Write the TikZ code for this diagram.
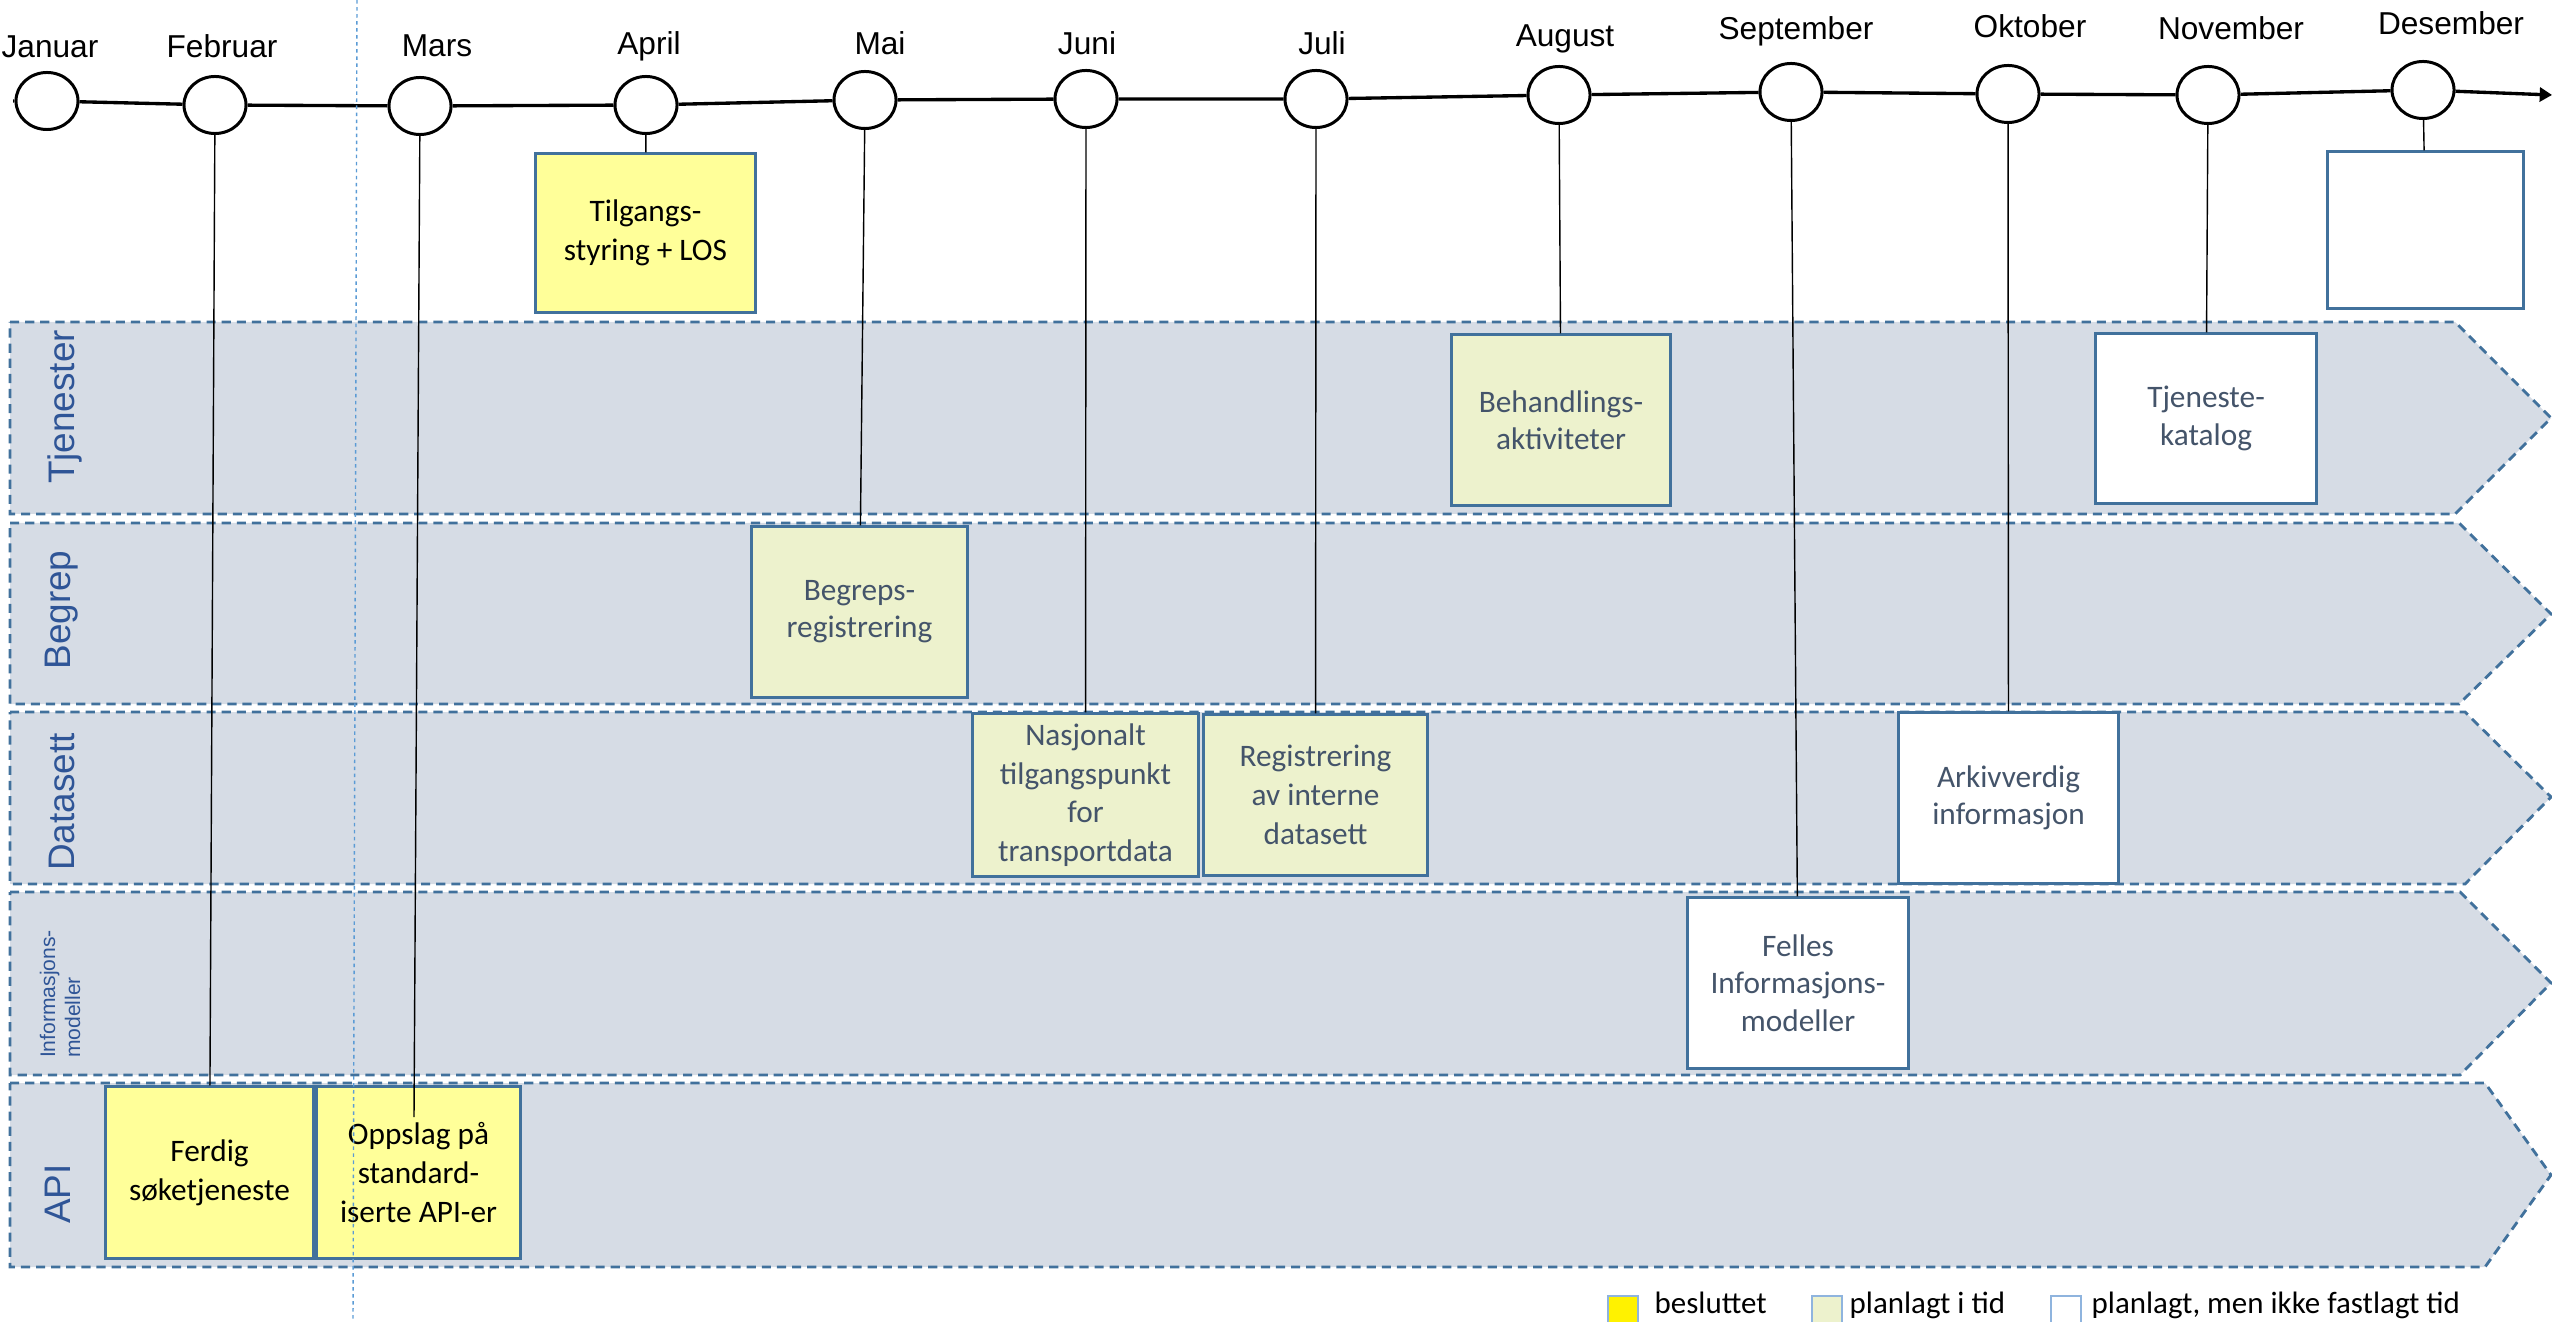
\documentclass[tikz,border=0pt]{standalone}
\usepackage{fontspec}
\setmainfont{Carlito}
\newfontfamily\arialfont{Liberation Sans}
\usetikzlibrary{shapes.geometric, arrows.meta}

\definecolor{lanefill}{HTML}{D6DCE5}
\definecolor{laneline}{HTML}{41719C}
\definecolor{lanetext}{HTML}{2F5597}
\definecolor{boxline}{HTML}{41719C}
\definecolor{decidedfill}{HTML}{FFFF99}
\definecolor{plannedfill}{HTML}{EDF2CD}
\definecolor{tasktext}{HTML}{44546A}
\definecolor{guideline}{HTML}{5B9BD5}
\definecolor{legendline}{HTML}{8FB4DE}

\tikzset{
    month/.style={ellipse, draw, line width=0.85pt, fill=white,
        minimum width=0.62cm, minimum height=0.57cm, inner sep=0pt},
    monthlabel/.style={anchor=base, inner sep=0pt,
        font=\arialfont\fontsize{9}{11}\selectfont},
    timeline/.style={line width=0.95pt, -{Triangle[length=3.5pt, width=4pt]}},
    lane/.style={fill=lanefill, draw=laneline, line width=0.8pt,
        dash pattern=on 2.6pt off 1.7pt},
    lanelabel/.style={rotate=90, text=lanetext, inner sep=0pt,
        font=\arialfont\fontsize{10.5}{12}\selectfont},
    task/.style={draw=boxline, line width=0.85pt, align=center, inner sep=0pt,
        font=\fontsize{8.9}{11}\selectfont},
    tighttext/.style={font=\fontsize{8.9}{10.6}\selectfont},
    decided/.style={task, fill=decidedfill},
    planned/.style={task, fill=plannedfill, text=tasktext},
    unfixed/.style={task, fill=white, text=tasktext},
    link/.style={line width=0.4pt},
    legendbox/.style={draw=legendline, line width=0.5pt, anchor=north west,
        minimum width=0.3cm, minimum height=0.3cm, inner sep=0pt},
    legendtext/.style={anchor=base west, inner sep=0pt,
        font=\fontsize{8.8}{10.5}\selectfont},
}

\begin{document}
\begin{tikzpicture}[x=0.01cm, y=-0.01cm]
    \useasboundingbox (0,0) rectangle (2552,1322);

    % Lanes
    \draw [lane] (10,322) -- (2455,322) -- (2551,418) -- (2455,514) -- (10,514) -- cycle;
    \draw [lane] (10,523) -- (2459,523) -- (2551,614) -- (2459,704) -- (10,704) -- cycle;
    \draw [lane] (10,712) -- (2465,712) -- (2551,797) -- (2465,884) -- (10,884) -- cycle;
    \draw [lane] (10,892) -- (2460,892) -- (2551,983) -- (2460,1075) -- (10,1075) -- cycle;
    \draw [lane] (10,1083) -- (2485,1083) -- (2551,1175) -- (2485,1267) -- (10,1267) -- cycle;
    \node [lanelabel] (ltjenester) at (65,407) {Tjenester};
    \node [lanelabel] (lbegrep) at (62,610) {Begrep};
    \node [lanelabel] (ldatasett) at (62,802) {Datasett};
    \node [lanelabel, align=left, font=\arialfont\fontsize{6}{7.1}\selectfont]
        (linfo) at (60,994) {Informasjons-\\modeller};
    \node [lanelabel] (lapi) at (58,1194) {API};

    % Months
    \coordinate (tstart) at (13,101);
    \coordinate (tend) at (2552,95);
    \node [month] (jan) at (47,101) {};
    \node [month] (feb) at (215,105) {};
    \node [month] (mar) at (420,106) {};
    \node [month] (apr) at (646,105) {};
    \node [month] (mai) at (865,100) {};
    \node [month] (jun) at (1086,99) {};
    \node [month] (jul) at (1316,99) {};
    \node [month] (aug) at (1559,95) {};
    \node [month] (sep) at (1791,92) {};
    \node [month] (okt) at (2008,94) {};
    \node [month] (nov) at (2208,95) {};
    \node [month] (des) at (2423,90) {};
    \draw [timeline] (tstart) -- (jan) -- (feb) -- (mar) -- (apr) -- (mai) -- (jun)
        -- (jul) -- (aug) -- (sep) -- (okt) -- (nov) -- (des) -- (tend);
    \node [monthlabel] (ljan) at (50,58) {Januar};
    \node [monthlabel] (lfeb) at (222,58) {Februar};
    \node [monthlabel] (lmar) at (437,57) {Mars};
    \node [monthlabel] (lapr) at (649,55) {April};
    \node [monthlabel] (lmai) at (880,55) {Mai};
    \node [monthlabel] (ljun) at (1087,55) {Juni};
    \node [monthlabel] (ljul) at (1322,55) {Juli};
    \node [monthlabel] (laug) at (1565,47) {August};
    \node [monthlabel] (lsep) at (1796,40) {September};
    \node [monthlabel] (lokt) at (2030,38) {Oktober};
    \node [monthlabel] (lnov) at (2231,40) {November};
    \node [monthlabel] (ldes) at (2451,35) {Desember};

    % Tasks
    \node [decided, minimum width=2.19cm, minimum height=1.58cm] (tilgang) at (645.5,233) {Tilgangs-\\styring + LOS};
    \node [decided, minimum width=2.07cm, minimum height=1.71cm] (ferdig) at (209.5,1172.5) {Ferdig\\søketjeneste};
    \node [decided, minimum width=2.03cm, minimum height=1.71cm] (oppslag) at (418.5,1172.5) {Oppslag på\\standard-\\iserte API-er};
    \node [planned, tighttext, minimum width=2.15cm, minimum height=1.70cm] (begrepsreg) at (859.5,612) {Begreps-\\registrering};
    \node [planned, minimum width=2.25cm, minimum height=1.62cm] (nasjonalt) at (1085.5,795) {Nasjonalt\\tilgangspunkt\\for\\transportdata};
    \node [planned, minimum width=2.23cm, minimum height=1.60cm] (interne) at (1315.5,795) {Registrering\\av interne\\datasett};
    \node [planned, tighttext, minimum width=2.18cm, minimum height=1.70cm] (behandling) at (1561,420) {Behandlings-\\aktiviteter};
    \node [unfixed, tighttext, minimum width=2.20cm, minimum height=1.69cm] (katalog) at (2206,418.5) {Tjeneste-\\katalog};
    \node [unfixed, tighttext, minimum width=2.19cm, minimum height=1.70cm] (arkiv) at (2008.5,798) {Arkivverdig\\informasjon};
    \node [unfixed, tighttext, minimum width=2.20cm, minimum height=1.70cm] (felles) at (1798,983) {Felles\\Informasjons-\\modeller};
    \node [unfixed, minimum width=1.95cm, minimum height=1.56cm] (desbox) at (2425.5,230) {};

    % Links
    \coordinate (oppend) at (414,1117);
    \draw [link] (feb) -- (ferdig);
    \draw [link] (mar) -- (oppend);
    \draw [link] (apr) -- (tilgang);
    \draw [link] (mai) -- (begrepsreg);
    \draw [link] (jun) -- (nasjonalt);
    \draw [link] (jul) -- (interne);
    \draw [link] (aug) -- (behandling);
    \draw [link] (sep) -- (felles);
    \draw [link] (okt) -- (arkiv);
    \draw [link] (nov) -- (katalog);
    \draw [link] (des) -- (desbox);

    % Guide
    \coordinate (gtop) at (357,0);
    \coordinate (gbot) at (353,1322);
    \draw [guideline, line width=0.4pt, dash pattern=on 1pt off 1pt] (gtop) -- (gbot);

    % Legend
    \node [legendbox, fill=yellow] (kdecided) at (1607,1295) {};
    \node [legendtext] (tdecided) at (1654,1313) {besluttet};
    \node [legendbox, fill=plannedfill] (kplanned) at (1811,1295) {};
    \node [legendtext] (tplanned) at (1849,1313) {planlagt i tid};
    \node [legendbox, fill=white] (kunfixed) at (2050,1295) {};
    \node [legendtext] (tunfixed) at (2091,1313) {planlagt, men ikke fastlagt tid};
\end{tikzpicture}
\end{document}
